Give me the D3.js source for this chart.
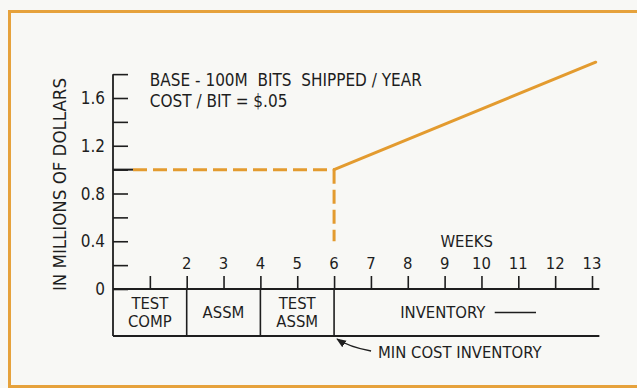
<!DOCTYPE html>
<html>
<head>
<meta charset="utf-8">
<script src="https://cdn.jsdelivr.net/npm/d3@7"></script>
<style>
  html, body { margin: 0; padding: 0; background: #f8f8f5; }
  svg { display: block; }
  text { font-family: "DejaVu Sans Condensed", "DejaVu Sans", sans-serif; font-stretch: condensed; fill: #1e1e1e; }
</style>
</head>
<body>
<svg id="chart" width="637" height="388"></svg>
<script>
// Inventory cost vs. weeks in the build cycle
const weekTicks = [0, 1, 2, 3, 4, 5, 6, 7, 8, 9, 10, 11, 12, 13];
const weekLabels = [2, 3, 4, 5, 6, 7, 8, 9, 10, 11, 12, 13];
const costTicks = [0, 0.2, 0.4, 0.6, 0.8, 1.0, 1.2, 1.4, 1.6, 1.8];
const costLabels = [0, 0.4, 0.8, 1.2, 1.6];

// Flat base cost up to the minimum-cost point, then rising inventory cost
const baseWeeks = [0, 6];
const baseCost = [1.0, 1.0];
const dropWeeks = [6, 6];
const dropCost = [1.0, 0.4];
const riseWeeks = [6, 13.1];
const riseCost = [1.0, 1.9];

// Process phases shown under the week axis
const phaseLines = [["TEST", "COMP"], ["ASSM"], ["TEST", "ASSM"], ["INVENTORY"]];
const phaseStart = [0, 2, 4, 6];
const phaseEnd = [2, 4, 6, 13.2];

const notes = ["BASE - 100M  BITS  SHIPPED / YEAR", "COST / BIT = $.05"];

const orange = "#e39b2f";
const ink = "#1e1e1e";

const svg = d3.select("#chart");

// Frame
svg.append("path")
  .attr("d", "M637,11.5 H9.5 V386.5 H637")
  .attr("fill", "none").attr("stroke", "#e6a23c").attr("stroke-width", 3);

const x = d3.scaleLinear().domain([0, 13]).range([113, 592]);
const y = d3.scaleLinear().domain([0, 1.6]).range([289, 98]);

// Y axis: ticks point inward, labels on the left
const yAxis = d3.axisRight(y).tickValues(costTicks).tickSize(15).tickFormat("");
const gy = svg.append("g").attr("transform", `translate(${x(0)},0)`).call(yAxis);
gy.select(".domain").remove();
gy.selectAll(".tick line").attr("stroke", ink).attr("stroke-width", 1.6);
svg.append("line")
  .attr("x1", x(0)).attr("x2", x(0))
  .attr("y1", y(1.8)).attr("y2", y(0) + 47)
  .attr("stroke", ink).attr("stroke-width", 1.8);

svg.append("g").selectAll("text").data(costLabels).join("text")
  .attr("x", x(0) - 8).attr("y", d => y(d)).attr("dy", "0.36em")
  .attr("text-anchor", "end").attr("font-size", 17)
  .text(d => d === 0 ? "0" : d.toFixed(1));

svg.append("text")
  .attr("transform", `translate(66,${(y(0) + y(1.8)) / 2 + 3}) rotate(-90)`)
  .attr("text-anchor", "middle").attr("font-size", 18.5)
  .text("IN MILLIONS OF DOLLARS");

// X axis: ticks point upward, labels above
const xAxis = d3.axisTop(x).tickValues(weekTicks.slice(1)).tickSize(13).tickFormat("");
const gx = svg.append("g").attr("transform", `translate(0,${y(0)})`).call(xAxis);
gx.select(".domain").remove();
gx.selectAll(".tick line").attr("stroke", ink).attr("stroke-width", 1.6);

svg.append("g").selectAll("text").data(weekLabels).join("text")
  .attr("x", d => x(d)).attr("y", y(0) - 18).attr("dy", "-0.1em")
  .attr("text-anchor", "middle").attr("font-size", 16.5)
  .text(d => d);

svg.append("text")
  .attr("x", x(9.6)).attr("y", y(0) - 42)
  .attr("text-anchor", "middle").attr("font-size", 16.5)
  .text("WEEKS");

// Phase band
const bandTop = y(0), bandBottom = y(0) + 47;
[bandTop, bandBottom].forEach(v => {
  svg.append("line")
    .attr("x1", x(0)).attr("x2", x(13.2))
    .attr("y1", v).attr("y2", v)
    .attr("stroke", ink).attr("stroke-width", 1.8);
});
svg.append("g").selectAll("line").data(phaseEnd.slice(0, 3)).join("line")
  .attr("x1", d => x(d)).attr("x2", d => x(d))
  .attr("y1", bandTop).attr("y2", bandBottom)
  .attr("stroke", ink).attr("stroke-width", 1.6);

phaseLines.forEach((lines, i) => {
  const cx = i === 3 ? x(8.95) : (x(phaseStart[i]) + x(phaseEnd[i])) / 2;
  const cy = (bandTop + bandBottom) / 2;
  const t = svg.append("text").attr("text-anchor", "middle").attr("font-size", 16.5);
  lines.forEach((s, j) => {
    t.append("tspan")
      .attr("x", cx)
      .attr("y", cy + (j - (lines.length - 1) / 2) * 18)
      .attr("dy", "0.36em")
      .text(s);
  });
});
// Trailing rule after INVENTORY
svg.append("line")
  .attr("x1", x(10.36)).attr("x2", x(11.48))
  .attr("y1", (bandTop + bandBottom) / 2).attr("y2", (bandTop + bandBottom) / 2)
  .attr("stroke", ink).attr("stroke-width", 1.5);

// Minimum cost annotation
svg.append("defs").append("marker")
  .attr("id", "head").attr("viewBox", "0 0 10 10")
  .attr("refX", 9).attr("refY", 5)
  .attr("markerWidth", 7).attr("markerHeight", 7)
  .attr("orient", "auto")
  .append("path").attr("d", "M0,1 L10,5 L0,9 Z").attr("fill", ink);

svg.append("path")
  .attr("d", `M${x(6) + 37},${bandBottom + 15} Q${x(6) + 15},${bandBottom + 11} ${x(6) + 3},${bandBottom + 3}`)
  .attr("fill", "none").attr("stroke", ink).attr("stroke-width", 1.4)
  .attr("marker-end", "url(#head)");

svg.append("text")
  .attr("x", x(6) + 44).attr("y", bandBottom + 16).attr("dy", "0.36em")
  .attr("font-size", 16.5)
  .text("MIN COST INVENTORY");

// Notes
svg.append("g").selectAll("text").data(notes).join("text")
  .attr("x", x(1)).attr("y", (d, i) => y(1.8) + 6 + i * 21).attr("dy", "0.36em")
  .attr("font-size", 17).attr("xml:space", "preserve")
  .style("white-space", "pre")
  .text(d => d);

// Cost lines
const line = d3.line().x(d => x(d[0])).y(d => y(d[1]));
svg.append("path")
  .attr("d", line(d3.zip([x.invert(x(0) + 20), baseWeeks[1]], baseCost)))
  .attr("fill", "none").attr("stroke", orange).attr("stroke-width", 3)
  .attr("stroke-dasharray", "14,6");
svg.append("line")
  .attr("x1", x(0)).attr("x2", x(0) + 20)
  .attr("y1", y(baseCost[0])).attr("y2", y(baseCost[0]))
  .attr("stroke", ink).attr("stroke-width", 2);
svg.append("path")
  .attr("d", line(d3.zip(dropWeeks, dropCost)))
  .attr("fill", "none").attr("stroke", orange).attr("stroke-width", 3)
  .attr("stroke-dasharray", "14,6");
svg.append("path")
  .attr("d", line(d3.zip(riseWeeks, riseCost)))
  .attr("fill", "none").attr("stroke", orange).attr("stroke-width", 3)
  .attr("stroke-linecap", "round");
</script>
</body>
</html>
